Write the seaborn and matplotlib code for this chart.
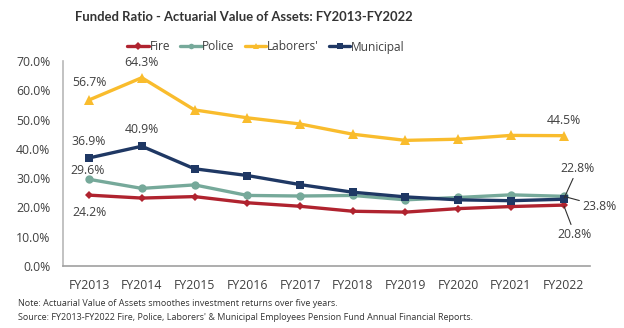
import matplotlib
matplotlib.use("Agg")
import matplotlib.pyplot as plt
import seaborn as sns
import pandas as pd

years = ["FY2013", "FY2014", "FY2015", "FY2016", "FY2017", "FY2018", "FY2019", "FY2020", "FY2021", "FY2022"]
fire = [24.2, 23.2, 23.7, 21.6, 20.4, 18.7, 18.4, 19.6, 20.3, 20.8]
police = [29.6, 26.5, 27.7, 24.1, 23.9, 24.1, 22.6, 23.4, 24.3, 23.8]
laborers = [56.7, 64.3, 53.3, 50.6, 48.5, 45.0, 42.9, 43.3, 44.6, 44.5]
municipal = [36.9, 40.9, 33.2, 30.9, 27.8, 25.2, 23.6, 22.6, 22.3, 22.8]
series = ["Fire", "Police", "Laborers'", "Municipal"]
colors = ["#B0232F", "#76A99A", "#F9BC2D", "#1F3864"]
marker_list = ["D", "o", "^", "s"]
marker_sizes = [4.5, 6, 6.5, 6]

rows = []
for name, vals in zip(series, [fire, police, laborers, municipal]):
    for i, (y, v) in enumerate(zip(years, vals)):
        rows.append({"Year": y, "idx": i, "Series": name, "Value": v})
df = pd.DataFrame(rows)

sns.set_theme(style="white")
plt.rcParams["font.family"] = ["Open Sans", "DejaVu Sans"]

fig = plt.figure(figsize=(6.24, 3.28), dpi=100)
ax = fig.add_axes([0.1005, 0.189, 0.845, 0.625])

sns.lineplot(data=df, x="idx", y="Value", hue="Series", style="Series",
             palette=dict(zip(series, colors)),
             markers=dict(zip(series, marker_list)), dashes=False,
             markersize=5.5, linewidth=2.4, markeredgewidth=0, ax=ax, legend=True)
for line, ms in zip(ax.lines[:4], marker_sizes):
    line.set_markersize(ms)

ax.set_xlim(-0.5, 9.5)
ax.set_ylim(0, 70)
ax.set_xticks(range(len(years)))
ax.set_xticklabels(years)
ax.set_yticks(range(0, 71, 10))
ax.set_yticklabels([f"{v:.1f}%" for v in range(0, 71, 10)])
ax.set_xlabel("")
ax.set_ylabel("")
ax.tick_params(axis="both", length=0, labelsize=8.8, colors="#404040")
ax.tick_params(axis="y", pad=9)
ax.tick_params(axis="x", pad=9)
for s in ["top", "right"]:
    ax.spines[s].set_visible(False)
ax.spines["left"].set_color("#B8B8B8")
ax.spines["bottom"].set_color("#A0A0A0")
ax.spines["left"].set_linewidth(1.2)
ax.spines["bottom"].set_linewidth(1.2)

handles, labels = ax.get_legend_handles_labels()
for h in handles:
    h.set_markersize(4)
ax.legend(handles, labels, loc="center", bbox_to_anchor=(266/624, 1 - 47/328),
          bbox_transform=fig.transFigure, ncol=4, frameon=False, fontsize=8.6,
          handlelength=1.8, handletextpad=0.05, columnspacing=0.85, labelcolor="#404040")

fig.text(244/624, 1 - 17/328, "Funded Ratio - Actuarial Value of Assets: FY2013-FY2022",
         ha="center", va="center", fontsize=9.4, fontweight="bold", color="#333333",
         family=["Lato", "DejaVu Sans"])

ann = dict(fontsize=8.8, color="#404040", ha="center", va="center")
ax.annotate("56.7%", (0, laborers[0]), xytext=(0, 12.5), textcoords="offset points", **ann)
ax.annotate("64.3%", (1, laborers[1]), xytext=(0, 11), textcoords="offset points", **ann)
ax.annotate("44.5%", (9, laborers[9]), xytext=(0, 11), textcoords="offset points", **ann)
ax.annotate("36.9%", (0, municipal[0]), xytext=(0, 12), textcoords="offset points", **ann)
ax.annotate("40.9%", (1, municipal[1]), xytext=(0, 12), textcoords="offset points", **ann)
ax.annotate("29.6%", (0, police[0]), xytext=(-1, 6), textcoords="offset points", **ann)
ax.annotate("24.2%", (0, fire[0]), xytext=(0, -12.5), textcoords="offset points", **ann)
lp = dict(arrowstyle="-", color="#303030", lw=0.8, shrinkA=0, shrinkB=1)
ax.annotate("22.8%", (9, municipal[9]), xytext=(10, 22), textcoords="offset points",
            arrowprops=lp, **ann)
ax.annotate("23.8%", (9, police[9]), xytext=(26, -7), textcoords="offset points",
            arrowprops=lp, **ann)
ax.annotate("20.8%", (9, fire[9]), xytext=(8, -21), textcoords="offset points",
            arrowprops=lp, **ann)

fig.text(18/624, 1 - 303/328, "Note: Actuarial Value of Assets smoothes investment returns over five years.",
         ha="left", va="center", fontsize=6.45, color="#333333")
fig.text(18/624, 1 - 318/328, "Source: FY2013-FY2022 Fire, Police, Laborers' & Municipal Employees Pension Fund Annual Financial Reports.",
         ha="left", va="center", fontsize=6.45, color="#333333")

fig.savefig("out.png", dpi=100)
